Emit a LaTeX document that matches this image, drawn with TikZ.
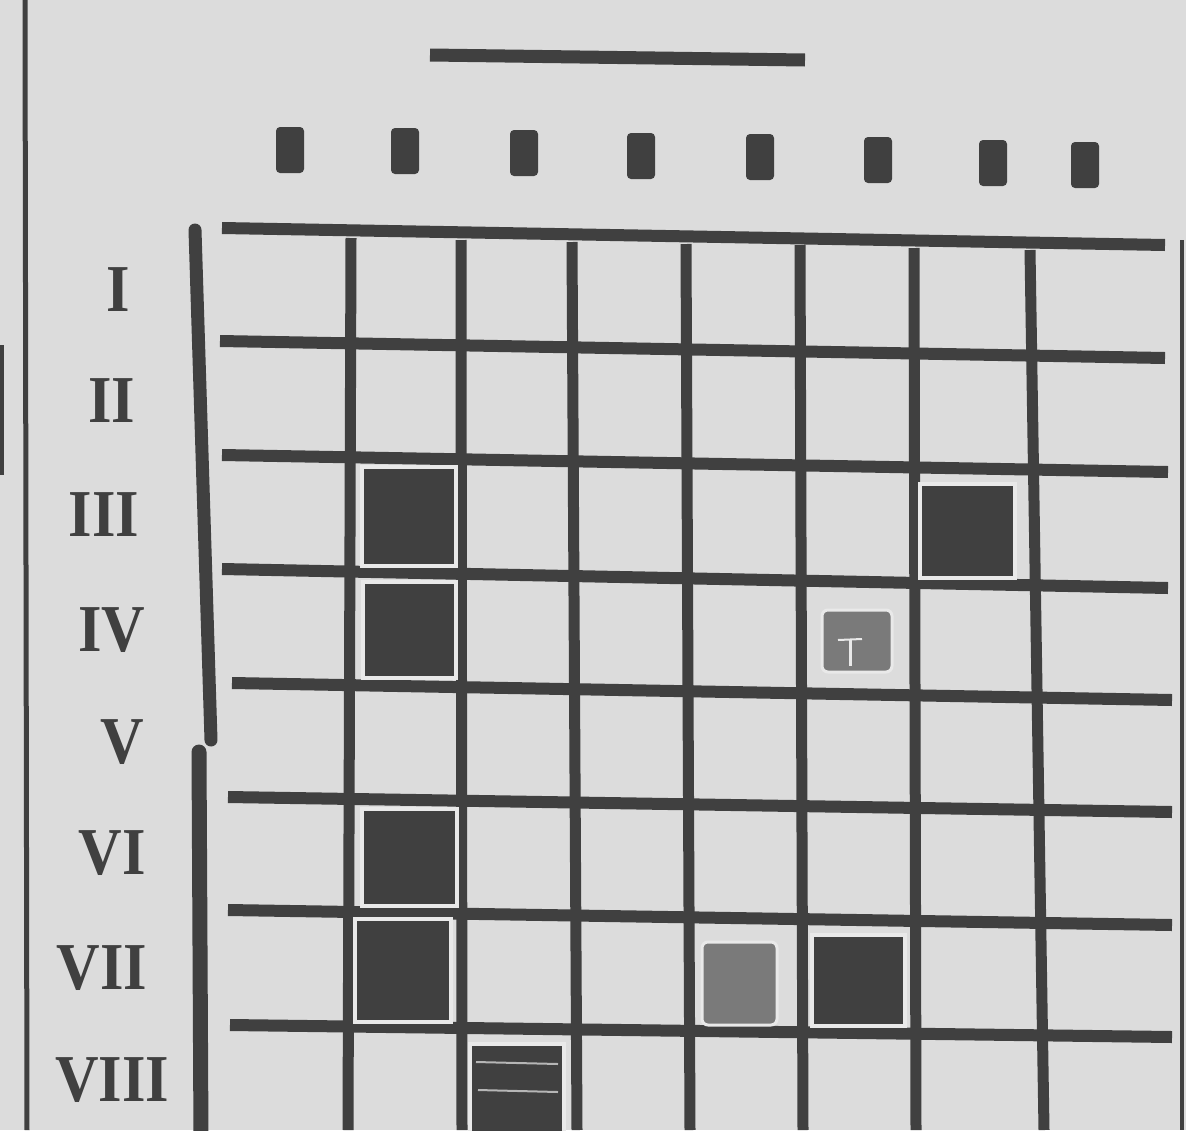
\documentclass[tikz,border=0pt]{standalone}
\usepackage{fontspec}
\setmainfont{Liberation Serif}
\definecolor{paper}{HTML}{DCDCDC}
\definecolor{ink}{HTML}{404040}
\definecolor{halo}{HTML}{E9E9E9}
\definecolor{smudge}{HTML}{7A7A7A}
\begin{document}
\begin{tikzpicture}[x=1pt,y=-1pt,
  hline/.style={ink,line width=12pt},
  vline/.style={ink,line width=11pt},
  bar/.style={ink,line width=13pt},
  thin/.style={ink,line width=5pt},
  tick/.style={fill=ink,rounded corners=4pt},
  cellfill/.style={fill=ink,draw=halo,line width=4pt},
  greyfill/.style={fill=smudge,draw=halo,line width=3pt,rounded corners=6pt},
  numeral/.style={font=\bfseries\fontsize{67}{67}\selectfont,text=ink,inner sep=0pt,xscale=0.9}]
\useasboundingbox (0,0) rectangle (1186,1130);
\fill[paper] (0,0) rectangle (1186,1130);

% left margin lines
\draw[thin] (25,0) -- (27,1130);
\fill[ink] (0,345) rectangle (4,475);
\draw[ink,line width=4pt] (1182,240) -- (1182,1130);

% top rule
\draw[bar] (430,55) -- (805,60);

% top ticks
\foreach \cx/\cy [count=\i] in {290/150,405/151,524/153,641/156,760/157,878/160,993/163,1085/165}{
  \path[tick] (\cx-14,\cy-23) rectangle (\cx+14,\cy+23);
}

% left vertical bars
\draw[bar,line cap=round] (195,230) -- (211,740);
\draw[ink,line width=15pt,line cap=round] (199,752) -- (201,1140);

% vertical grid lines
\draw[vline] (351,238) -- (348,1130);
\draw[vline] (461,240) -- (462,1130);
\draw[vline] (572,242) -- (577,1130);
\draw[vline] (686,244) -- (690,1130);
\draw[vline] (800,245) -- (803,1130);
\draw[vline] (914,248) -- (916,1130);
\draw[vline] (1030,250) -- (1044,1130);

% horizontal grid lines
\draw[hline] (222,228) -- (1165,245);
\draw[hline] (220,341) -- (1165,358);
\draw[hline] (222,455) -- (1168,472);
\draw[hline] (222,569) -- (1168,588);
\draw[hline] (232,683) -- (1172,700);
\draw[hline] (228,797) -- (1172,812);
\draw[hline] (228,910) -- (1172,925);
\draw[hline] (230,1025) -- (1172,1037);

% filled cells
\path[cellfill] (362,467) rectangle (456,566);
\path[cellfill] (363,582) rectangle (456,678);
\path[cellfill] (920,484) rectangle (1015,578);
\path[cellfill] (362,809) rectangle (457,906);
\path[cellfill] (355,919) rectangle (451,1022);
\path[cellfill] (812,935) rectangle (905,1026);
\path[cellfill] (470,1044) rectangle (564,1134);
\draw[halo!70!ink,line width=2pt] (476,1062) -- (558,1064);
\draw[halo!70!ink,line width=2pt] (478,1090) -- (558,1092);
\path[greyfill] (822,610) rectangle (892,672);
\draw[halo,line width=3pt] (850,640) -- (850,666);
\draw[halo,line width=2pt] (838,640) -- (862,639);
\path[greyfill] (702,942) rectangle (777,1025);

% row numerals
\node[numeral] (r1) at (118,290) {I};
\node[numeral] (r2) at (112,401) {II};
\node[numeral] (r3) at (104,515) {III};
\node[numeral] (r4) at (112,630) {IV};
\node[numeral] (r5) at (122,742) {V};
\node[numeral] (r6) at (112,853) {VI};
\node[numeral] (r7) at (102,968) {VII};
\node[numeral] (r8) at (112,1080) {VIII};
\end{tikzpicture}
\end{document}
